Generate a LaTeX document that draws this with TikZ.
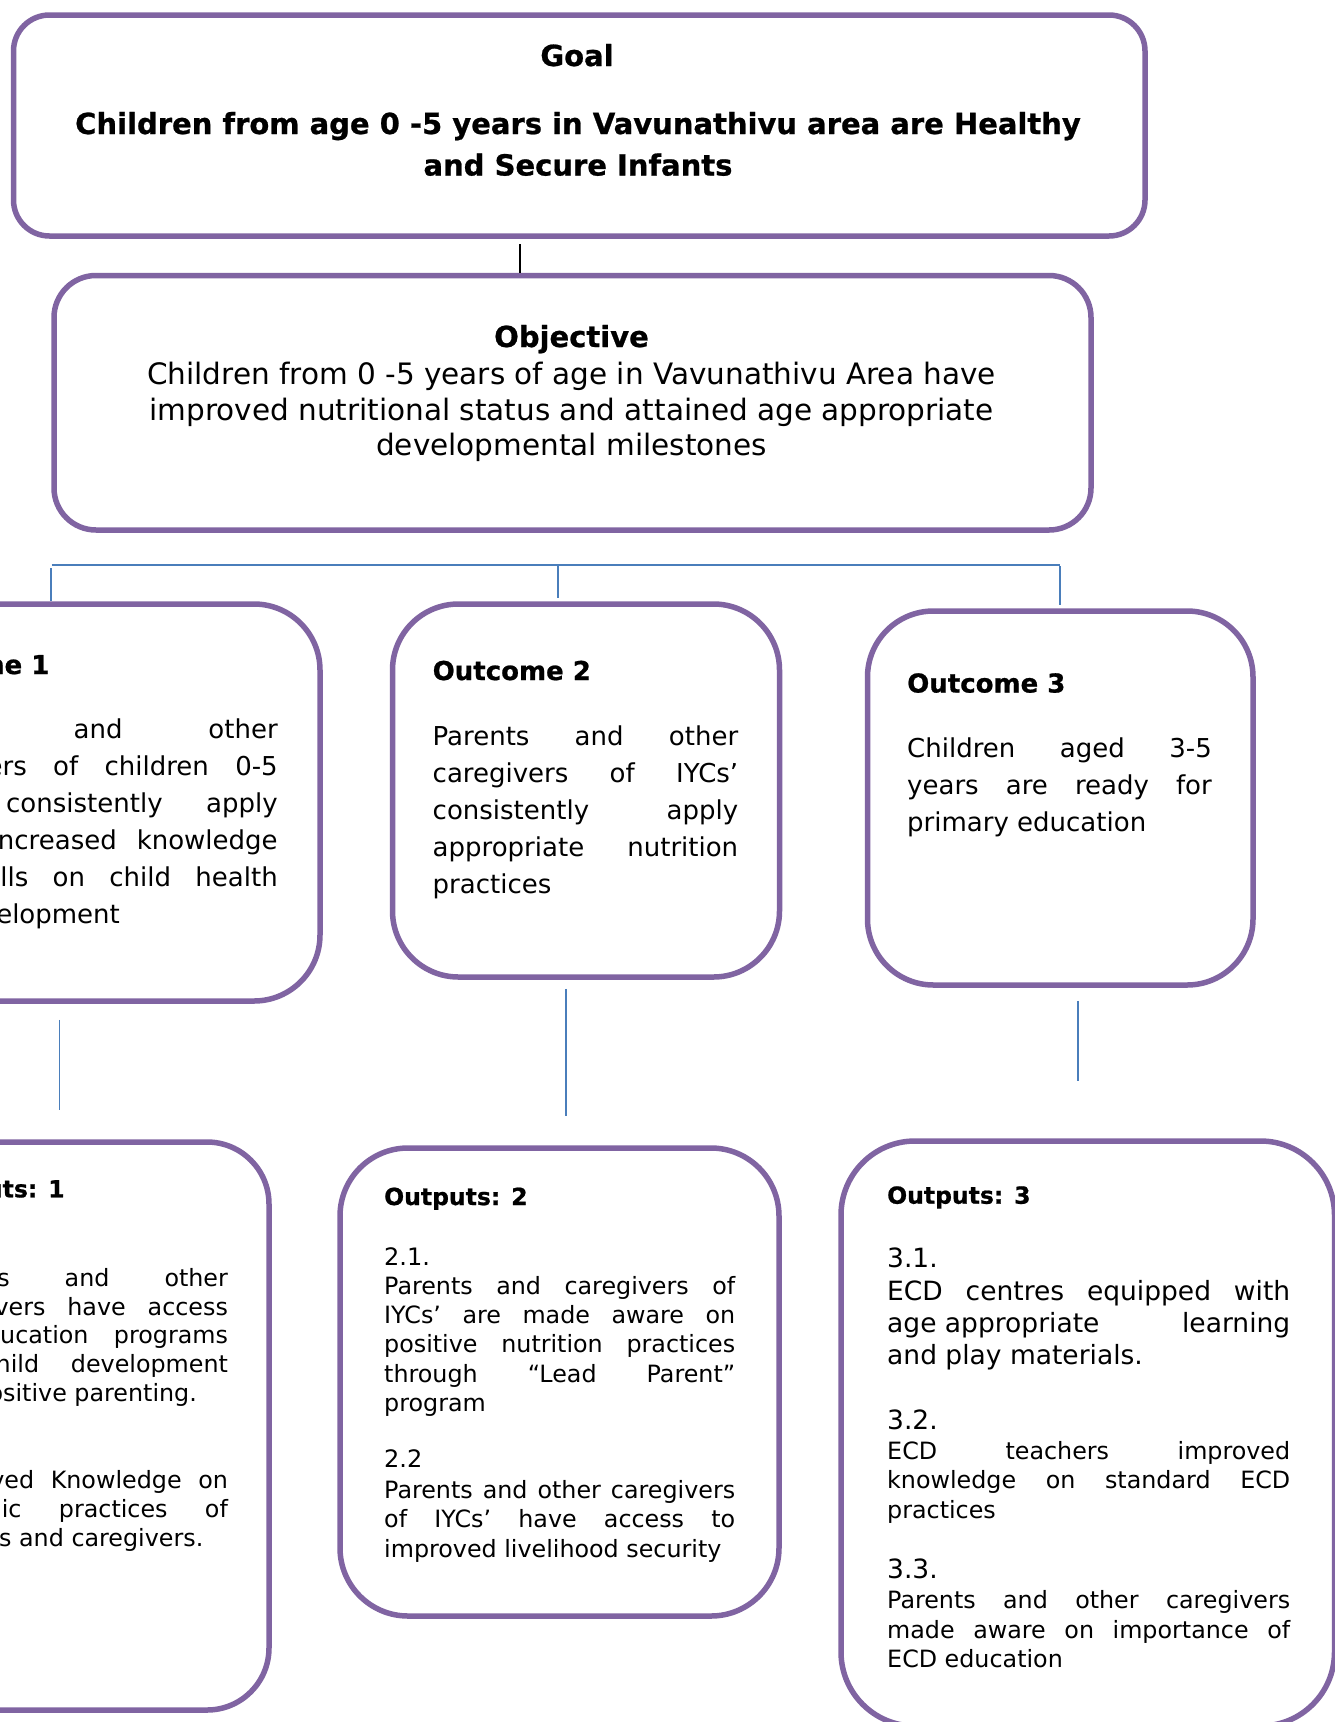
\documentclass[tikz,border=0pt]{standalone}
\usepackage{fontspec}
\setmainfont{DejaVu Sans}[BoldFeatures={FakeBold=0.8}]
\definecolor{purp}{RGB}{128,100,162}
\definecolor{bluel}{RGB}{74,126,187}
\newcommand{\jline}[1]{\makebox[\linewidth][s]{#1}}
\begin{document}
\begin{tikzpicture}[x=1pt,y=-1pt,
  pbox/.style={draw=purp, line width=5.5pt, rounded corners=#1, inner sep=0pt},
  bline/.style={draw=bluel, line width=1.6pt},
  kline/.style={draw=black, line width=1.9pt},
  txt/.style={anchor=base west, inner sep=0pt},
  ctxt/.style={anchor=base, inner sep=0pt}]
\useasboundingbox (0,0) rectangle (1335,1722);
\clip (0,0) rectangle (1335,1722);
\fill[white] (0,0) rectangle (1335,1722);

% boxes
\node[pbox=36, minimum width=1131.5pt, minimum height=221pt] (goal) at (579.25,125.5) {};
\node[pbox=42, minimum width=1037pt, minimum height=254.5pt] (obj) at (572.5,402.75) {};
\node[pbox=66, minimum width=470pt, minimum height=397pt] (oc1) at (85,802.5) {};
\node[pbox=66, minimum width=387pt, minimum height=373pt] (oc2) at (586,790.5) {};
\node[pbox=66, minimum width=385.5pt, minimum height=374pt] (oc3) at (1060.25,798) {};
\node[pbox=62, minimum width=394pt, minimum height=568pt] (op1) at (72,1426) {};
\node[pbox=68, minimum width=439pt, minimum height=468pt] (op2) at (559.5,1382) {};
\node[pbox=74, minimum width=493.5pt, minimum height=585pt] (op3) at (1087.75,1433.5) {};

% connectors
\coordinate (xk) at (520,0);
\draw[kline, shorten <=5.7pt] (xk |- goal.south) -- (xk |- obj.north);
\coordinate (hL) at (51.7,565);
\coordinate (hR) at (1060,565);
\draw[bline] (hL) -- (hR);
\coordinate (xa) at (50.7,565);
\coordinate (xb) at (558,565);
\coordinate (xc) at (1060,565);
\draw[bline, shorten <=3pt] (xa) -- (xa |- oc1.north);
\draw[bline, shorten <=1pt, shorten >=3pt] (xb) -- (xb |- oc2.north);
\draw[bline, shorten <=1pt, shorten >=3pt] (xc) -- (xc |- oc3.north);
\coordinate (x1) at (59.5,0);
\coordinate (x2) at (566,0);
\coordinate (x3) at (1078,0);
\draw[bline, shorten <=16pt, shorten >=29pt] (x1 |- oc1.south) -- (x1 |- op1.north);
\draw[bline, shorten <=9pt, shorten >=29pt] (x2 |- oc2.south) -- (x2 |- op2.north);
\draw[bline, shorten <=13pt, shorten >=57pt] (x3 |- oc3.south) -- (x3 |- op3.north);

% goal text
\node[ctxt] (goalh) at (577,66) {\fontsize{29}{41.5}\selectfont\bfseries Goal};
\node[ctxt] (goalt) at (578,134) {\parbox[t]{1100pt}{\centering\fontsize{29}{41.5}\selectfont\bfseries
  Children from age 0 -5 years in Vavunathivu area are Healthy\\ and Secure Infants}};

% objective text
\node[ctxt] (objh) at (571.5,347) {\fontsize{29}{35.7}\selectfont\bfseries Objective};
\node[ctxt] (objt) at (571.5,384.3) {\parbox[t]{1000pt}{\centering\fontsize{29.5}{35.7}\selectfont
  Children from 0 -5 years of age in Vavunathivu Area have\\
  improved nutritional status and attained age appropriate\\
  developmental milestones}};

% outcome 1
\node[txt] (oc1h) at (-109,674) {\fontsize{26}{37}\selectfont\bfseries Outcome 1};
\node[txt] (oc1t) at (-109,738) {\parbox[t]{386.5pt}{\fontsize{26}{37}\selectfont
  \jline{Parents and other}\\
  \jline{caregivers of children 0-5}\\
  \jline{years consistently apply}\\
  \hbox to \linewidth{with\hfill increased\hskip 20pt knowledge}\\
  \jline{and skills on child health}\\
  and development}};

% outcome 2
\node[txt] (oc2h) at (432.5,680) {\fontsize{26}{37}\selectfont\bfseries Outcome 2};
\node[txt] (oc2t) at (432.5,745) {\parbox[t]{305.5pt}{\fontsize{26}{37}\selectfont
  \jline{Parents and other}\\
  \jline{caregivers of IYCs’}\\
  \jline{consistently apply}\\
  \jline{appropriate nutrition}\\
  practices}};

% outcome 3
\node[txt] (oc3h) at (907,692.5) {\fontsize{26}{37}\selectfont\bfseries Outcome 3};
\node[txt] (oc3t) at (907,757) {\parbox[t]{304.6pt}{\fontsize{26}{37.3}\selectfont
  \jline{Children aged 3-5}\\
  \jline{years are ready for}\\
  primary education}};

% outputs 1
\node[txt] (op1h) at (-79,1197.3) {\fontsize{23.5}{29}\selectfont\bfseries Outputs: 1};
\node[txt] (op1a) at (-79,1286.7) {\parbox[t]{306.7pt}{\fontsize{23.8}{28.6}\selectfont
  \jline{Parents and other}\\
  \jline{caregivers have access}\\
  \jline{to education programs}\\
  \jline{on child development}\\
  and positive parenting.}};
\node[txt] (op1b) at (-79,1488.5) {\parbox[t]{306.7pt}{\fontsize{23.8}{28.8}\selectfont
  \jline{Improved Knowledge on}\\
  \jline{hygienic practices of}\\
  parents and caregivers.}};

% outputs 2
\node[txt] (op2h) at (384,1205) {\fontsize{23.5}{29}\selectfont\bfseries Outputs: 2};
\node[txt] (op2l1) at (384,1265) {\fontsize{24}{29}\selectfont 2.1.};
\node[txt] (op2a) at (384,1294.7) {\parbox[t]{351pt}{\fontsize{23.8}{29.1}\selectfont
  \jline{Parents and caregivers of}\\
  \jline{IYCs’ are made aware on}\\
  \jline{positive nutrition practices}\\
  \jline{through “Lead Parent”}\\
  program}};
\node[txt] (op2l2) at (384,1467.4) {\fontsize{24}{29}\selectfont 2.2};
\node[txt] (op2b) at (384,1498) {\parbox[t]{351pt}{\fontsize{23.8}{29.5}\selectfont
  \jline{Parents and other caregivers}\\
  \jline{of IYCs’ have access to}\\
  improved livelihood security}};

% outputs 3
\node[txt] (op3h) at (887,1203.7) {\fontsize{23.5}{29}\selectfont\bfseries Outputs: 3};
\node[txt] (op3l1) at (887,1267.8) {\fontsize{26.5}{32}\selectfont 3.1.};
\node[txt] (op3a) at (887,1300.4) {\parbox[t]{403pt}{\fontsize{26.5}{32.1}\selectfont
  \jline{ECD centres equipped with}\\
  \makebox[\linewidth][s]{age appropriate\hfill learning}\\
  and play materials.}};
\node[txt] (op3l2) at (887,1429) {\fontsize{26.5}{32}\selectfont 3.2.};
\node[txt] (op3b) at (887,1459.5) {\parbox[t]{403pt}{\fontsize{23.8}{29.3}\selectfont
  \jline{ECD teachers improved}\\
  \jline{knowledge on standard ECD}\\
  practices}};
\node[txt] (op3l3) at (887,1578.5) {\fontsize{26.5}{32}\selectfont 3.3.};
\node[txt] (op3c) at (887,1608.8) {\parbox[t]{403pt}{\fontsize{23.8}{29.2}\selectfont
  \jline{Parents and other caregivers}\\
  \jline{made aware on importance of}\\
  ECD education}};
\end{tikzpicture}
\end{document}
